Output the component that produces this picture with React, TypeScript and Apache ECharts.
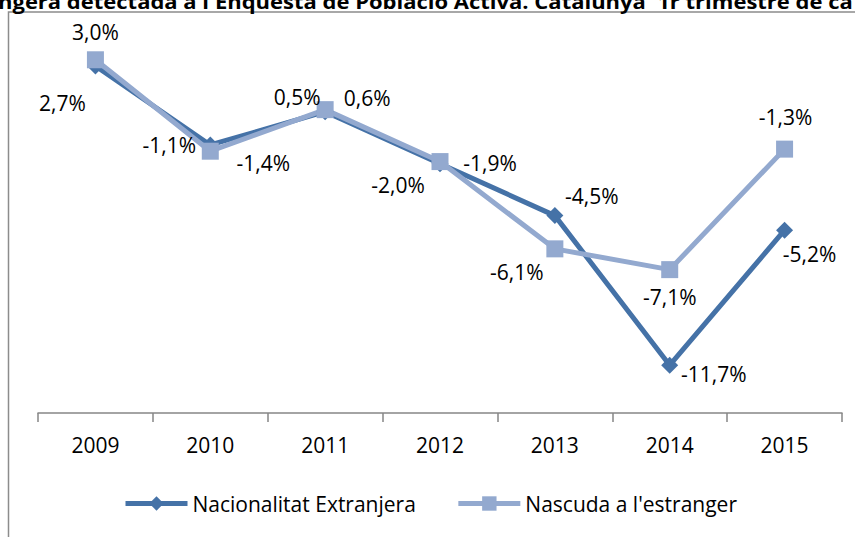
import React, { useEffect, useRef } from "react";
import * as echarts from "echarts";

const years = ["2009", "2010", "2011", "2012", "2013", "2014", "2015"];
const nacionalitat = [2.7, -1.1, 0.5, -2.0, -4.5, -11.7, -5.2];
const nascuda = [3.0, -1.4, 0.6, -1.9, -6.1, -7.1, -1.3];
const seriesNames = ["Nacionalitat Extranjera", "Nascuda a l'estranger"];
const titleText = "ngera detectada a l'Enquesta de Població Activa. Catalunya  1r trimestre de ca";

// label offsets (layout only)
const offsetsNac: [number, number][] = [[-33, 37], [-41, 0], [-28, -15], [-42, 21], [37, -20], [44, 9], [25, 24]];
const offsetsNas: [number, number][] = [[0, -28], [53, 12], [42, -12], [50, 1], [-38, 23], [0, 27], [1, -32]];

const FONT = "'Open Sans', sans-serif";
const fmt = (v: number) => v.toFixed(1).replace(".", ",") + "%";

export default function App() {
  const ref = useRef<HTMLDivElement>(null);
  useEffect(() => {
    if (!ref.current) return;
    const chart = echarts.init(ref.current, null, { renderer: "svg" });
    const mk = (vals: number[], offs: [number, number][]) =>
      vals.map((v, i) => ({
        value: v,
        label: { offset: offs[i] },
      }));
    const labelStyle = {
      show: true,
      position: "inside",
      formatter: (p: any) => fmt(p.value),
      color: "#000",
      fontSize: 21,
      fontFamily: FONT,
    };
    chart.setOption({
      animation: false,
      backgroundColor: "#ffffff",
      textStyle: { fontFamily: FONT },
      graphic: [
        {
          type: "rect",
          shape: { x: 8.5, y: 12, width: 900, height: 600 },
          style: { fill: "none", stroke: "#8c8c8c", lineWidth: 1.5 },
          z: -1,
        },
        {
          type: "text",
          x: -2,
          y: 11,
          scaleX: 1.1,
          style: {
            text: titleText,
            fontFamily: FONT,
            fontWeight: "bold",
            fontSize: 20,
            fill: "#000",
            textVerticalAlign: "bottom",
            textAlign: "left",
          },
        },
      ],
      grid: { left: 38, right: 13, top: 39, bottom: 537 - 413, containLabel: false },
      xAxis: {
        type: "category",
        data: years,
        boundaryGap: true,
        axisLine: { onZero: false, lineStyle: { color: "#868686", width: 1.5 } },
        axisTick: { show: true, length: 9, alignWithLabel: false, lineStyle: { color: "#868686", width: 1.5 } },
        axisLabel: { color: "#000", fontSize: 21, fontFamily: FONT, margin: 21 },
      },
      yAxis: {
        type: "value",
        min: -14,
        max: 4,
        interval: 2,
        show: false,
        splitLine: { show: false },
      },
      legend: {
        top: 488,
        left: 118,
        itemWidth: 62,
        itemHeight: 18,
        itemGap: 40,
        lineStyle: { width: 5 },
        textStyle: { fontSize: 21, color: "#000", fontFamily: FONT },
        data: seriesNames,
      },
      series: [
        {
          name: seriesNames[0],
          type: "line",
          data: mk(nacionalitat, offsetsNac),
          symbol: "diamond",
          symbolSize: 17,
          lineStyle: { width: 5, color: "#4572A7" },
          itemStyle: { color: "#4572A7" },
          label: labelStyle,
        },
        {
          name: seriesNames[1],
          type: "line",
          data: mk(nascuda, offsetsNas),
          symbol: "rect",
          symbolSize: 17,
          lineStyle: { width: 5, color: "#93A9CF" },
          itemStyle: { color: "#93A9CF" },
          label: labelStyle,
        },
      ],
    });
    return () => chart.dispose();
  }, []);
  return (
    <div
      ref={ref}
      style={{ position: "fixed", left: 0, top: 0, width: 855, height: 537 }}
    />
  );
}
